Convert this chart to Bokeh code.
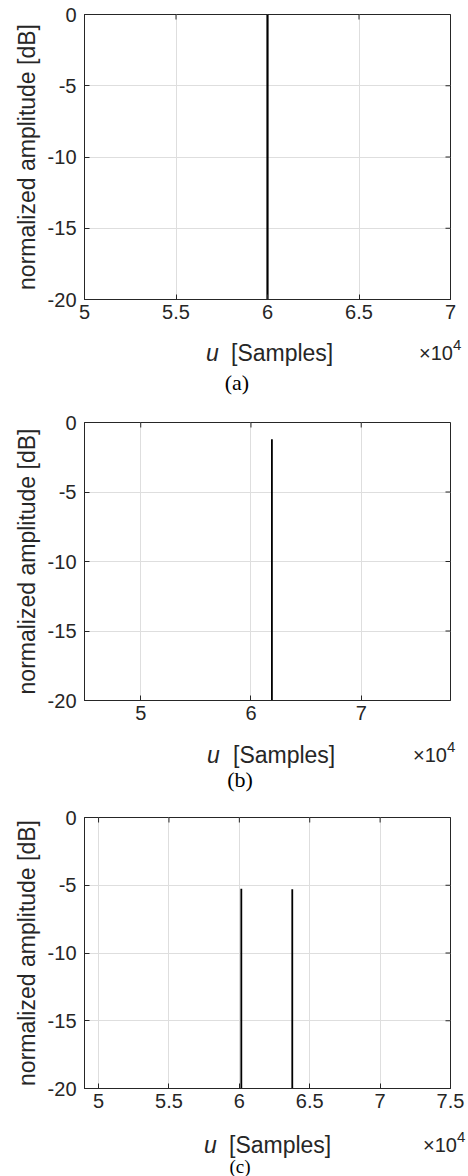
import math
from bokeh.plotting import figure
from bokeh.models import FixedTicker, Range1d, Div
from bokeh.layouts import column
from bokeh.embed import file_html
from bokeh.resources import INLINE

# ---- data ----
y_ticks = [-20, -15, -10, -5, 0]
y_tick_labels = ["-20", "-15", "-10", "-5", "0"]

a_xrange = [50000, 70000]
a_xticks = [50000, 55000, 60000, 65000, 70000]
a_xtick_labels = ["5", "5.5", "6", "6.5", "7"]
a_stem_x = [60000]
a_stem_top = [0.0]

b_xrange = [44900, 78100]
b_xticks = [50000, 60000, 70000]
b_xtick_labels = ["5", "6", "7"]
b_stem_x = [61900]
b_stem_top = [-1.2]

c_xrange = [49000, 75000]
c_xticks = [50000, 55000, 60000, 65000, 70000, 75000]
c_xtick_labels = ["5", "5.5", "6", "6.5", "7", "7.5"]
c_stem_x = [60140, 63760]
c_stem_top = [-5.25, -5.3]

x_label_var = "u"
x_label_rest = "[Samples]"
x_scale_text = "\u00d710"
x_scale_exp = "4"
captions = ["(a)", "(b)", "(c)"]

AX = "#262626"
FONT = "Liberation Sans"
W = 468


def panel(xr, xticks, xlabels, sx, stop, lw, height, bl, br, bt, bb):
    p = figure(width=W, height=height, output_backend="svg",
               toolbar_location=None, x_range=Range1d(*xr),
               y_range=Range1d(-20, 0),
               min_border_left=bl, min_border_right=br,
               min_border_top=bt, min_border_bottom=bb)
    p.background_fill_color = "white"
    p.border_fill_color = "white"
    p.outline_line_color = AX
    p.outline_line_width = 1

    p.xaxis.ticker = FixedTicker(ticks=xticks)
    p.yaxis.ticker = FixedTicker(ticks=y_ticks)
    p.xgrid.ticker = FixedTicker(ticks=xticks)
    p.ygrid.ticker = FixedTicker(ticks=y_ticks)
    p.xaxis.major_label_overrides = {t: l for t, l in zip(xticks, xlabels)}
    p.yaxis.major_label_overrides = {t: l for t, l in zip(y_ticks, y_tick_labels)}
    for ax in (p.xaxis, p.yaxis):
        ax.axis_line_color = AX
        ax.major_tick_line_color = AX
        ax.major_tick_in = 5
        ax.major_tick_out = 0
        ax.minor_tick_line_color = None
        ax.major_label_text_font = FONT
        ax.major_label_text_font_size = "20px"
        ax.major_label_text_color = AX
    p.xaxis.major_label_standoff = 5
    p.yaxis.major_label_standoff = 8
    p.yaxis.axis_label = "normalized amplitude [dB]"
    p.yaxis.axis_label_text_font = FONT
    p.yaxis.axis_label_text_font_size = "23px"
    p.yaxis.axis_label_text_font_style = "normal"
    p.yaxis.axis_label_text_color = AX
    p.yaxis.axis_label_standoff = 5

    p.grid.grid_line_color = "#dedede"
    p.grid.grid_line_width = 1

    # inward ticks on the top and right edges (outer half clipped by the frame)
    p.scatter(x=xticks, y=[0] * len(xticks), marker="dash", angle=math.pi / 2,
              size=10, line_color=AX, line_width=1)
    p.scatter(x=[xr[1]] * len(y_ticks), y=y_ticks, marker="dash",
              size=10, line_color=AX, line_width=1)

    p.segment(x0=sx, y0=[-20] * len(sx), x1=sx, y1=stop,
              line_color="black", line_width=lw)
    return p


def below(height, ux, sx, ly, tx, ex, cap, cx, cy, csize=22):
    def span(text, left, cy_, size, extra=""):
        top = cy_ - size / 2.0
        return (f'<span style="position:absolute;left:{left}px;top:{top}px;'
                f'font-size:{size}px;line-height:{size}px;white-space:nowrap;{extra}">'
                f'{text}</span>')
    sans = f"font-family:'{FONT}';color:{AX};"
    html = (f'<div style="position:relative;width:{W}px;height:{height}px;overflow:hidden;">'
            + span(x_label_var, ux, ly, 23, sans + "font-style:italic;")
            + span(x_label_rest, sx, ly, 23, sans)
            + span(x_scale_text, tx, ly, 20, sans)
            + span(x_scale_exp, ex, ly - 9, 15, sans)
            + f'<span style="position:absolute;left:{cx - 20}px;width:40px;text-align:center;'
              f'top:{cy - csize / 2.0}px;font-size:{csize}px;line-height:{csize}px;'
              f"font-family:'Liberation Serif';color:black;\">{cap}</span>"
            + '</div>')
    return Div(text=html, width=W, height=height, disable_math=True,
               styles={"margin": "0", "padding": "0"})


pa = panel(a_xrange, a_xticks, a_xtick_labels, a_stem_x, a_stem_top, 2.2,
           336, 80, 3, 14, 37)
da = below(64, 206, 231, 17, 419, 453, captions[0], 237, 47)
pb = panel(b_xrange, b_xticks, b_xtick_labels, b_stem_x, b_stem_top, 1.8,
           336, 83, 8, 22, 36)
db = below(64, 207, 233, 19, 413, 447, captions[1], 240, 44)
pc = panel(c_xrange, c_xticks, c_xtick_labels, c_stem_x, c_stem_top, 1.8,
           325, 84, 18, 17, 37)
dc = below(51, 204, 229, 20, 423, 457, captions[2], 240, 41.5, csize=19)

layout = column(pa, da, pb, db, pc, dc)
open("out.html", "w").write(file_html(layout, INLINE))
